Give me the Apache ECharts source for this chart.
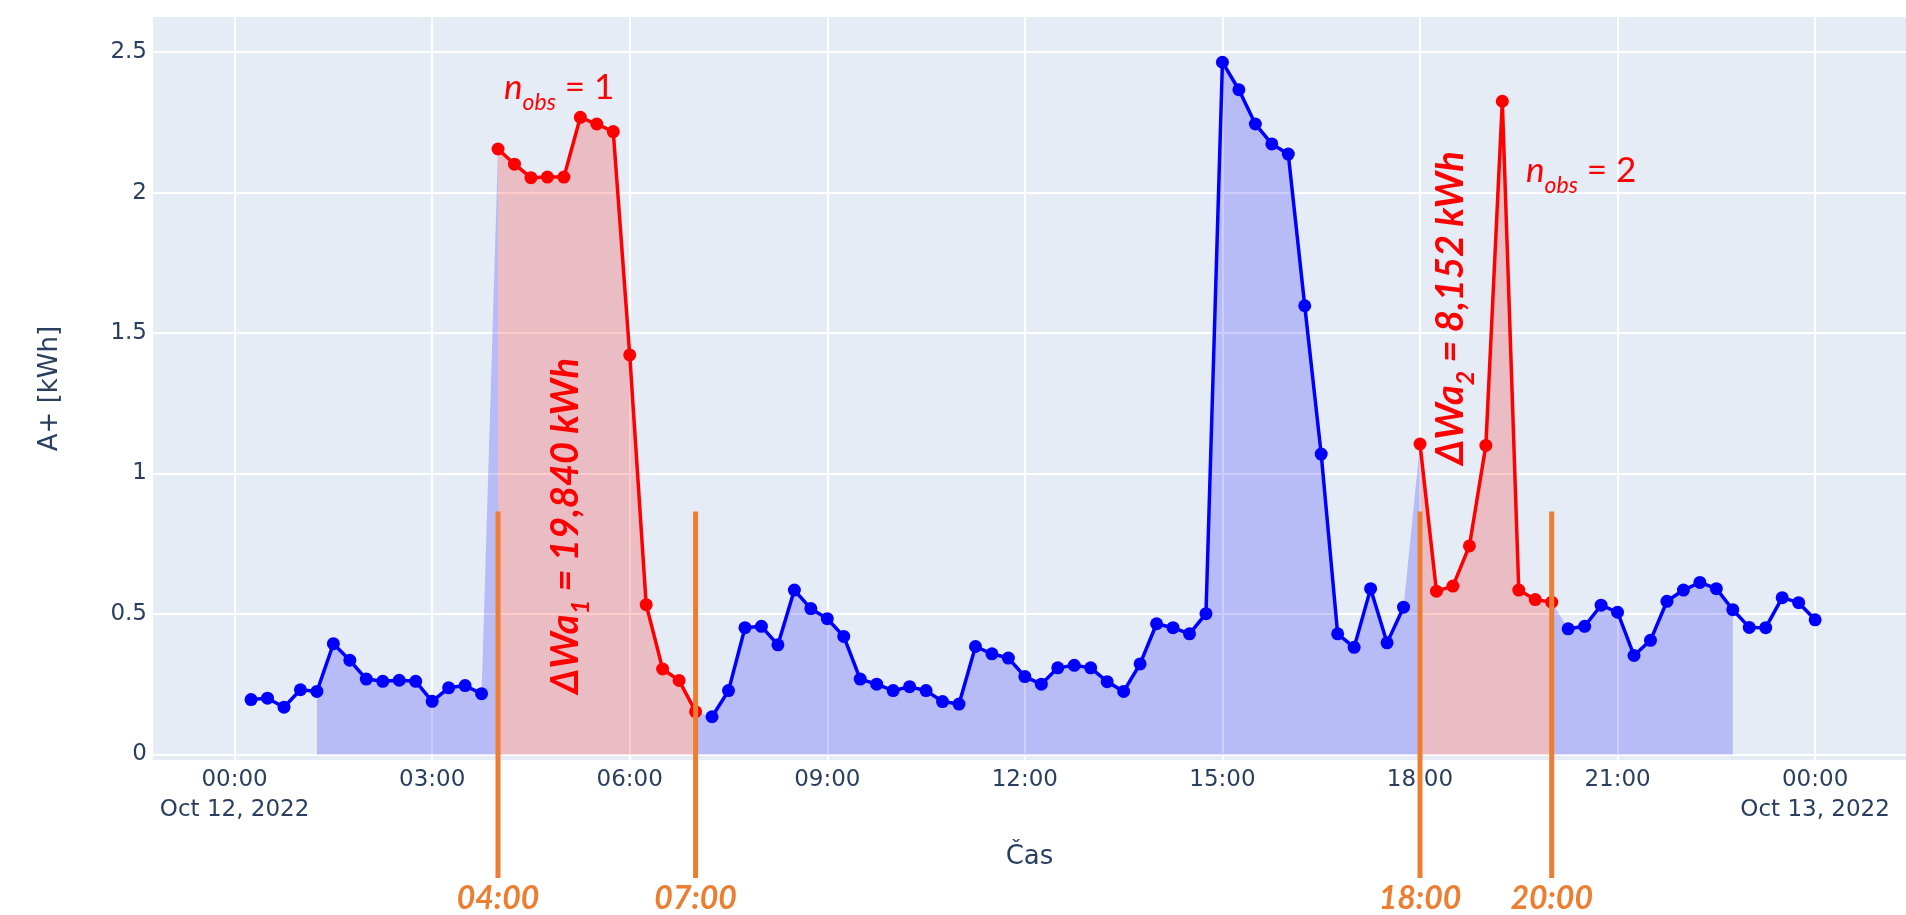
<!DOCTYPE html>
<html><head><meta charset="utf-8">
<script src="https://cdn.jsdelivr.net/npm/echarts@6/dist/echarts.min.js"></script>
<style>html,body{margin:0;padding:0;background:#fff}#c{width:1906px;height:915px}</style>
</head><body><div id="c"></div>
<script>
// ---- data ----
const times = ['00:15','00:30','00:45','01:00','01:15','01:30','01:45','02:00','02:15','02:30','02:45','03:00',
  '03:15','03:30','03:45','04:00','04:15','04:30','04:45','05:00','05:15','05:30','05:45','06:00',
  '06:15','06:30','06:45','07:00','07:15','07:30','07:45','08:00','08:15','08:30','08:45','09:00',
  '09:15','09:30','09:45','10:00','10:15','10:30','10:45','11:00','11:15','11:30','11:45','12:00',
  '12:15','12:30','12:45','13:00','13:15','13:30','13:45','14:00','14:15','14:30','14:45','15:00',
  '15:15','15:30','15:45','16:00','16:15','16:30','16:45','17:00','17:15','17:30','17:45','18:00',
  '18:15','18:30','18:45','19:00','19:15','19:30','19:45','20:00','20:15','20:30','20:45','21:00',
  '21:15','21:30','21:45','22:00','22:15','22:30','22:45','23:00','23:15','23:30','23:45','24:00'];
const values = [0.195,0.200,0.168,0.230,0.224,0.394,0.335,0.268,0.260,0.264,0.260,0.189,
  0.237,0.245,0.216,2.155,2.101,2.053,2.055,2.055,2.268,2.244,2.217,1.422,
  0.533,0.304,0.263,0.152,0.134,0.227,0.451,0.456,0.390,0.585,0.519,0.483,
  0.420,0.268,0.250,0.227,0.241,0.227,0.188,0.179,0.384,0.358,0.343,0.277,
  0.250,0.308,0.317,0.308,0.259,0.224,0.322,0.465,0.451,0.429,0.501,2.464,
  2.366,2.244,2.173,2.137,1.597,1.069,0.429,0.381,0.590,0.397,0.524,1.105,
  0.581,0.599,0.742,1.100,2.325,0.585,0.551,0.542,0.447,0.456,0.531,0.506,
  0.352,0.406,0.545,0.585,0.612,0.590,0.515,0.452,0.451,0.558,0.540,0.479];
const anomalyWindows = [['04:00','07:00'],['18:00','20:00']];
const fillWindow = ['01:15','22:45'];
const xTickValues = [0,3,6,9,12,15,18,21,24];
const xTickLabels = ['00:00\nOct 12, 2022','03:00','06:00','09:00','12:00','15:00','18:00','21:00','00:00\nOct 13, 2022'];
const yTickValues = [0,0.5,1,1.5,2,2.5];
const yTickLabels = ['0','0.5','1','1.5','2','2.5'];
const markerTimes = ['04:00','07:00','18:00','20:00'];
const markerLevel = 0.865;
const annoTexts = {
  nobs1: ['n','obs',' = 1'],
  nobs2: ['n','obs',' = 2'],
  dwa1: ['ΔWa','1','= 19,840 kWh'],
  dwa2: ['ΔWa','2','= 8,152 kWh']
};
const yName = 'A+ [kWh]';
const xName = 'Čas';

// ---- helpers ----
const toH = s => +s.slice(0,2) + (+s.slice(3))/60;
const hours = times.map(toH);
const wins = anomalyWindows.map(w => [toH(w[0]), toH(w[1])]);
const fw = [toH(fillWindow[0]), toH(fillWindow[1])];
const inWinIncl = h => wins.some(w => h >= w[0] && h <= w[1]);
const inWinExcl = h => wins.some(w => h > w[0] && h < w[1]);

const blueFillData = hours.map((h,i) => (h >= fw[0] && h <= fw[1] && !inWinExcl(h)) ? [h, values[i]] : [h, null]);
const redData = hours.map((h,i) => inWinIncl(h) ? [h, values[i]] : [h, null]);
const blueData = hours.map((h,i) => inWinIncl(h) ? [h, null] : [h, values[i]]);

const FONT = 'DejaVu Sans';
const TXT = '#2a3f5f';
const AFONT = 'Lato, "Open Sans", sans-serif';
const chart = echarts.init(document.getElementById('c'), null, {renderer:'canvas'});
chart.setOption({
  animation: false,
  backgroundColor: '#ffffff',
  grid: {left:153, right:0, top:17, bottom:155, containLabel:false, outerBoundsMode:'none',
         show:true, backgroundColor:'#e5ecf6', borderWidth:0},
  xAxis: {
    type:'value', min:-1.239, max:25.38,
    axisLine:{show:false}, axisTick:{show:false, customValues:xTickValues},
    splitLine:{show:true, lineStyle:{color:'#ffffff', width:2}},
    axisLabel:{customValues:xTickValues, margin:5, fontFamily:FONT, fontSize:23, color:TXT, lineHeight:30,
      formatter: v => { const i = xTickValues.indexOf(Math.round(v)); return i>=0 ? xTickLabels[i] : ''; }},
    name: xName, nameLocation:'middle', nameGap:84,
    nameTextStyle:{fontFamily:FONT, fontSize:26, color:TXT}
  },
  yAxis: {
    type:'value', min:-0.02, max:2.625,
    axisLine:{show:false}, axisTick:{show:false, customValues:yTickValues},
    splitLine:{show:true, lineStyle:{color:'#ffffff', width:2}},
    axisLabel:{customValues:yTickValues, margin:6, fontFamily:FONT, fontSize:23, color:TXT,
      formatter: v => { const i = yTickValues.findIndex(t => Math.abs(t-v)<1e-6); return i>=0 ? yTickLabels[i] : ''; }},
    name: yName, nameLocation:'middle', nameGap:90, nameRotate:90,
    nameTextStyle:{fontFamily:FONT, fontSize:26, color:TXT}
  },
  series: [
    {type:'line', data:blueFillData, symbol:'none', connectNulls:false,
     lineStyle:{width:0, opacity:0}, areaStyle:{color:'rgba(0,0,255,0.2)', opacity:1}, z:2, silent:true},
    {type:'line', data:redData, symbol:'circle', symbolSize:13, connectNulls:false,
     itemStyle:{color:'#ff0000'}, lineStyle:{color:'#ff0000', width:3.5},
     areaStyle:{color:'rgba(255,0,0,0.2)', opacity:1}, z:3},
    {type:'line', data:blueData, symbol:'circle', symbolSize:13, connectNulls:false,
     itemStyle:{color:'#0000ff'}, lineStyle:{color:'#0000ff', width:3.5}, z:4}
  ]
});

// ---- annotations ----
const px = (h, v) => chart.convertToPixel({xAxisIndex:0, yAxisIndex:0}, [h, v]);
const ORANGE = '#ed7d31';
const g = [];
markerTimes.forEach(t => {
  const p = px(toH(t), markerLevel);
  g.push({type:'line', shape:{x1:p[0], y1:p[1], x2:p[0], y2:878}, style:{stroke:ORANGE, lineWidth:5}, z:100});
  g.push({type:'text', x:p[0], y:899, style:{text:t, fontFamily:AFONT, fontSize:32, fontWeight:'bold', fontStyle:'italic',
          fill:ORANGE, align:'center', verticalAlign:'middle'}, z:100});
});
function nobs(parts, x, y){
  return {type:'text', x:x, y:y, z:100, style:{
    text:'{n|'+parts[0]+'}{s|'+parts[1]+'}{r|'+parts[2]+'}', align:'left', verticalAlign:'middle',
    rich:{
      n:{fontFamily:AFONT, fontSize:35, fontStyle:'italic', fill:'#ff0000', lineHeight:52},
      s:{fontFamily:AFONT, fontSize:23, fontStyle:'italic', fill:'#ff0000', lineHeight:23, verticalAlign:'bottom'},
      r:{fontFamily:AFONT, fontSize:35, fill:'#ff0000', lineHeight:52}
    }}};
}
function dwa(parts, x, y){
  return {type:'text', x:x, y:y, rotation:Math.PI/2, z:100, style:{
    text:'{m|'+parts[0]+'}{s|'+parts[1]+'}{m| '+parts[2]+'}', align:'center', verticalAlign:'middle',
    rich:{
      m:{fontFamily:AFONT, fontSize:38, fontWeight:'bold', fontStyle:'italic', fill:'#ff0000', lineHeight:54},
      s:{fontFamily:AFONT, fontSize:25, fontWeight:'bold', fontStyle:'italic', fill:'#ff0000', lineHeight:25, verticalAlign:'bottom'}
    }}};
}
g.push(nobs(annoTexts.nobs1, 504, 88));
g.push(nobs(annoTexts.nobs2, 1526, 171));
g.push(dwa(annoTexts.dwa1, 566, 526));
g.push(dwa(annoTexts.dwa2, 1451, 308));
chart.setOption({graphic:{elements:g}});
</script>
</body></html>
